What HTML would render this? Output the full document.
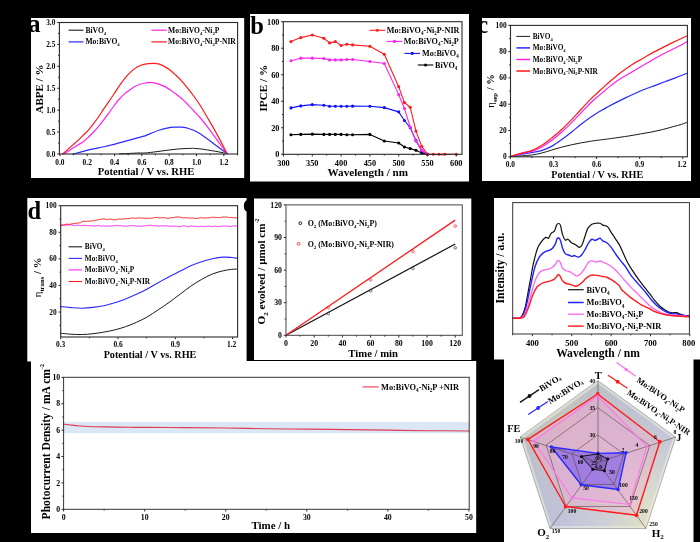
<!DOCTYPE html>
<html><head><meta charset="utf-8"><style>html,body{margin:0;padding:0;background:#000;overflow:hidden}svg{display:block;position:absolute;left:0;top:0}</style></head><body>
<svg width="700" height="542" viewBox="0 0 700 542" style="font-family:'Liberation Serif',serif;font-weight:bold;">
<rect x="0.00" y="0.00" width="700.00" height="542.00" fill="#000" stroke="none" stroke-width="1"/>
<defs><filter id="bl" x="-2%" y="-2%" width="104%" height="104%"><feGaussianBlur stdDeviation="0.38"/></filter></defs><g filter="url(#bl)">
<rect x="31.00" y="18.00" width="213.20" height="160.00" fill="#fff" stroke="none" stroke-width="1"/>
<rect x="250.00" y="14.00" width="219.00" height="167.50" fill="#fff" stroke="none" stroke-width="1"/>
<rect x="482.00" y="18.00" width="209.00" height="163.00" fill="#fff" stroke="none" stroke-width="1"/>
<rect x="27.30" y="198.00" width="219.30" height="163.50" fill="#fff" stroke="none" stroke-width="1"/>
<rect x="254.00" y="198.50" width="217.30" height="161.50" fill="#fff" stroke="none" stroke-width="1"/>
<rect x="494.00" y="198.00" width="212.00" height="161.50" fill="#fff" stroke="none" stroke-width="1"/>
<rect x="31.00" y="361.00" width="445.20" height="172.00" fill="#fff" stroke="none" stroke-width="1"/>
<rect x="504.00" y="359.00" width="189.50" height="189.00" fill="#fff" stroke="none" stroke-width="1"/>
<path d="M119.58 153.94 C122.65 153.79 133.79 153.17 138.03 153.02 C142.26 152.86 141.99 153.23 145.00 153.02 C148.01 152.80 152.38 152.19 156.07 151.73 C159.76 151.27 163.45 150.71 167.14 150.25 C170.83 149.79 174.52 149.27 178.21 148.96 C181.90 148.65 186.51 148.50 189.28 148.41 C192.05 148.31 192.66 148.28 194.82 148.41 C196.97 148.53 199.43 148.77 202.20 149.14 C204.96 149.51 208.65 150.16 211.42 150.62 C214.19 151.08 216.19 151.42 218.80 151.91 C221.41 152.40 225.72 153.30 227.10 153.57" fill="none" stroke="#1a1a1a" stroke-width="1.0" stroke-linecap="round"/>
<path d="M72.90 154.00 C73.98 153.73 77.25 152.95 79.40 152.40 C81.55 151.85 83.65 151.23 85.80 150.70 C87.95 150.17 90.13 149.68 92.30 149.20 C94.47 148.72 96.65 148.25 98.80 147.80 C100.95 147.35 103.05 146.98 105.20 146.50 C107.35 146.02 109.55 145.45 111.70 144.90 C113.85 144.35 115.95 143.78 118.10 143.20 C120.25 142.62 122.43 141.98 124.60 141.40 C126.77 140.82 128.95 140.30 131.10 139.70 C133.25 139.10 135.18 138.43 137.50 137.80 C139.82 137.17 142.52 136.75 145.00 135.90 C147.48 135.05 149.93 133.68 152.40 132.70 C154.87 131.72 157.35 130.77 159.80 130.00 C162.25 129.23 164.65 128.57 167.10 128.10 C169.55 127.63 172.03 127.35 174.50 127.20 C176.97 127.05 179.43 126.95 181.90 127.20 C184.37 127.45 186.83 127.93 189.30 128.70 C191.77 129.47 194.25 130.52 196.70 131.80 C199.15 133.08 201.55 134.72 204.00 136.40 C206.45 138.08 208.93 140.05 211.40 141.90 C213.87 143.75 216.18 145.55 218.80 147.50 C221.42 149.45 225.72 152.58 227.10 153.60" fill="none" stroke="#2a2aff" stroke-width="1.2" stroke-linecap="round"/>
<path d="M63.90 154.00 C64.55 153.57 66.30 152.38 67.80 151.40 C69.30 150.42 71.18 149.18 72.90 148.10 C74.62 147.02 76.37 145.97 78.10 144.90 C79.83 143.83 81.58 142.98 83.30 141.70 C85.02 140.42 86.68 138.82 88.40 137.20 C90.12 135.58 91.87 133.83 93.60 132.00 C95.33 130.17 97.08 128.25 98.80 126.20 C100.52 124.15 102.18 121.97 103.90 119.70 C105.62 117.43 107.37 114.97 109.10 112.60 C110.83 110.23 112.58 107.77 114.30 105.50 C116.02 103.23 117.68 100.93 119.40 99.00 C121.12 97.07 122.92 95.37 124.60 93.90 C126.28 92.43 127.88 91.38 129.50 90.20 C131.12 89.02 132.55 87.80 134.30 86.80 C136.05 85.80 138.10 84.85 140.00 84.20 C141.90 83.55 144.03 83.20 145.70 82.90 C147.37 82.60 148.57 82.40 150.00 82.40 C151.43 82.40 152.63 82.53 154.30 82.90 C155.97 83.27 158.10 83.90 160.00 84.60 C161.90 85.30 163.80 86.08 165.70 87.10 C167.60 88.12 169.50 89.38 171.40 90.70 C173.30 92.02 175.18 93.52 177.10 95.00 C179.02 96.48 180.98 97.88 182.90 99.60 C184.82 101.32 186.70 103.35 188.60 105.30 C190.50 107.25 192.33 109.18 194.30 111.30 C196.27 113.42 198.17 115.35 200.40 118.00 C202.63 120.65 205.25 123.98 207.70 127.20 C210.15 130.42 212.63 133.92 215.10 137.30 C217.57 140.68 220.50 144.78 222.50 147.50 C224.50 150.22 226.33 152.58 227.10 153.60" fill="none" stroke="#ff22ee" stroke-width="1.2" stroke-linecap="round"/>
<path d="M62.60 154.00 C63.47 153.23 66.08 150.92 67.80 149.40 C69.52 147.88 71.18 146.40 72.90 144.90 C74.62 143.40 76.37 142.02 78.10 140.40 C79.83 138.78 81.58 136.92 83.30 135.20 C85.02 133.48 86.68 132.03 88.40 130.10 C90.12 128.17 91.87 125.87 93.60 123.60 C95.33 121.33 97.08 118.98 98.80 116.50 C100.52 114.02 102.18 111.25 103.90 108.70 C105.62 106.15 107.37 103.73 109.10 101.20 C110.83 98.67 112.48 96.23 114.30 93.50 C116.12 90.77 118.10 87.50 120.00 84.80 C121.90 82.10 123.80 79.53 125.70 77.30 C127.60 75.07 129.50 73.10 131.40 71.40 C133.30 69.70 135.18 68.23 137.10 67.10 C139.02 65.97 140.98 65.18 142.90 64.60 C144.82 64.02 146.70 63.82 148.60 63.60 C150.50 63.38 152.63 63.25 154.30 63.30 C155.97 63.35 156.93 63.38 158.60 63.90 C160.27 64.42 162.40 65.38 164.30 66.40 C166.20 67.42 168.10 68.57 170.00 70.00 C171.90 71.43 173.80 73.22 175.70 75.00 C177.60 76.78 179.50 78.60 181.40 80.70 C183.30 82.80 185.18 85.22 187.10 87.60 C189.02 89.98 190.75 92.10 192.90 95.00 C195.05 97.90 197.53 101.17 200.00 105.00 C202.47 108.83 205.18 113.68 207.70 118.00 C210.22 122.32 212.63 126.45 215.10 130.90 C217.57 135.35 220.50 140.92 222.50 144.70 C224.50 148.48 226.33 152.12 227.10 153.60" fill="none" stroke="#ff1a1a" stroke-width="1.2" stroke-linecap="round"/>
<rect x="59.40" y="22.50" width="178.20" height="131.50" fill="none" stroke="#2a2a2a" stroke-width="1.1"/>
<line x1="59.90" y1="154.00" x2="59.90" y2="156.20" stroke="#2a2a2a" stroke-width="1"/>
<line x1="87.22" y1="154.00" x2="87.22" y2="156.20" stroke="#2a2a2a" stroke-width="1"/>
<line x1="114.54" y1="154.00" x2="114.54" y2="156.20" stroke="#2a2a2a" stroke-width="1"/>
<line x1="141.86" y1="154.00" x2="141.86" y2="156.20" stroke="#2a2a2a" stroke-width="1"/>
<line x1="169.18" y1="154.00" x2="169.18" y2="156.20" stroke="#2a2a2a" stroke-width="1"/>
<line x1="196.50" y1="154.00" x2="196.50" y2="156.20" stroke="#2a2a2a" stroke-width="1"/>
<line x1="223.82" y1="154.00" x2="223.82" y2="156.20" stroke="#2a2a2a" stroke-width="1"/>
<line x1="73.56" y1="154.00" x2="73.56" y2="155.30" stroke="#2a2a2a" stroke-width="1"/>
<line x1="100.88" y1="154.00" x2="100.88" y2="155.30" stroke="#2a2a2a" stroke-width="1"/>
<line x1="128.20" y1="154.00" x2="128.20" y2="155.30" stroke="#2a2a2a" stroke-width="1"/>
<line x1="155.52" y1="154.00" x2="155.52" y2="155.30" stroke="#2a2a2a" stroke-width="1"/>
<line x1="182.84" y1="154.00" x2="182.84" y2="155.30" stroke="#2a2a2a" stroke-width="1"/>
<line x1="210.16" y1="154.00" x2="210.16" y2="155.30" stroke="#2a2a2a" stroke-width="1"/>
<line x1="237.48" y1="154.00" x2="237.48" y2="155.30" stroke="#2a2a2a" stroke-width="1"/>
<line x1="57.20" y1="154.00" x2="59.40" y2="154.00" stroke="#2a2a2a" stroke-width="1"/>
<line x1="57.20" y1="132.09" x2="59.40" y2="132.09" stroke="#2a2a2a" stroke-width="1"/>
<line x1="57.20" y1="110.17" x2="59.40" y2="110.17" stroke="#2a2a2a" stroke-width="1"/>
<line x1="57.20" y1="88.25" x2="59.40" y2="88.25" stroke="#2a2a2a" stroke-width="1"/>
<line x1="57.20" y1="66.34" x2="59.40" y2="66.34" stroke="#2a2a2a" stroke-width="1"/>
<line x1="57.20" y1="44.43" x2="59.40" y2="44.43" stroke="#2a2a2a" stroke-width="1"/>
<line x1="57.20" y1="22.51" x2="59.40" y2="22.51" stroke="#2a2a2a" stroke-width="1"/>
<line x1="58.10" y1="143.04" x2="59.40" y2="143.04" stroke="#2a2a2a" stroke-width="1"/>
<line x1="58.10" y1="121.13" x2="59.40" y2="121.13" stroke="#2a2a2a" stroke-width="1"/>
<line x1="58.10" y1="99.21" x2="59.40" y2="99.21" stroke="#2a2a2a" stroke-width="1"/>
<line x1="58.10" y1="77.30" x2="59.40" y2="77.30" stroke="#2a2a2a" stroke-width="1"/>
<line x1="58.10" y1="55.38" x2="59.40" y2="55.38" stroke="#2a2a2a" stroke-width="1"/>
<line x1="58.10" y1="33.47" x2="59.40" y2="33.47" stroke="#2a2a2a" stroke-width="1"/>
<text x="59.90" y="164.90" font-size="7.4" text-anchor="middle" fill="#000" >0.0</text>
<text x="87.22" y="164.90" font-size="7.4" text-anchor="middle" fill="#000" >0.2</text>
<text x="114.54" y="164.90" font-size="7.4" text-anchor="middle" fill="#000" >0.4</text>
<text x="141.86" y="164.90" font-size="7.4" text-anchor="middle" fill="#000" >0.6</text>
<text x="169.18" y="164.90" font-size="7.4" text-anchor="middle" fill="#000" >0.8</text>
<text x="196.50" y="164.90" font-size="7.4" text-anchor="middle" fill="#000" >1.0</text>
<text x="223.82" y="164.90" font-size="7.4" text-anchor="middle" fill="#000" >1.2</text>
<text x="55.30" y="156.50" font-size="7.3" text-anchor="end" fill="#000" >0.0</text>
<text x="55.30" y="134.59" font-size="7.3" text-anchor="end" fill="#000" >0.5</text>
<text x="55.30" y="112.67" font-size="7.3" text-anchor="end" fill="#000" >1.0</text>
<text x="55.30" y="90.75" font-size="7.3" text-anchor="end" fill="#000" >1.5</text>
<text x="55.30" y="68.84" font-size="7.3" text-anchor="end" fill="#000" >2.0</text>
<text x="55.30" y="46.93" font-size="7.3" text-anchor="end" fill="#000" >2.5</text>
<text x="55.30" y="25.01" font-size="7.3" text-anchor="end" fill="#000" >3.0</text>
<text x="146.00" y="175.30" font-size="10.6" text-anchor="middle" fill="#000" >Potential / V vs. RHE</text>
<text x="42.90" y="89.00" font-size="11.0" text-anchor="middle" fill="#000" transform="rotate(-90 42.90 89.00)" >ABPE / %</text>
<text x="28.30" y="32.40" font-size="24.5" text-anchor="start" fill="#000" >a</text>
<line x1="68.60" y1="30.20" x2="83.50" y2="30.20" stroke="#1a1a1a" stroke-width="1.1"/>
<text x="85.40" y="32.60" font-size="7.6" text-anchor="start" fill="#000" >BiVO<tspan font-size="0.62em" dy="0.42em">4</tspan><tspan dy="-0.260em">&#8203;</tspan></text>
<line x1="68.60" y1="41.90" x2="83.50" y2="41.90" stroke="#2a2aff" stroke-width="1.2"/>
<text x="85.40" y="44.30" font-size="7.6" text-anchor="start" fill="#000" >Mo:BiVO<tspan font-size="0.62em" dy="0.42em">4</tspan><tspan dy="-0.260em">&#8203;</tspan></text>
<line x1="151.40" y1="30.20" x2="166.80" y2="30.20" stroke="#ff22ee" stroke-width="1.2"/>
<text x="168.00" y="32.60" font-size="7.6" text-anchor="start" fill="#000" >Mo:BiVO<tspan font-size="0.62em" dy="0.42em">4</tspan><tspan dy="-0.260em">&#8203;</tspan>-Ni<tspan font-size="0.62em" dy="0.42em">2</tspan><tspan dy="-0.260em">&#8203;</tspan>P</text>
<line x1="151.40" y1="41.90" x2="166.80" y2="41.90" stroke="#ff1a1a" stroke-width="1.2"/>
<text x="168.00" y="44.30" font-size="7.6" text-anchor="start" fill="#000" >Mo:BiVO<tspan font-size="0.62em" dy="0.42em">4</tspan><tspan dy="-0.260em">&#8203;</tspan>-Ni<tspan font-size="0.62em" dy="0.42em">2</tspan><tspan dy="-0.260em">&#8203;</tspan>P-NIR</text>
<path d="M290.99 134.81 L300.78 134.41 L312.30 134.14 L323.82 134.41 L329.58 134.41 L335.34 134.41 L341.10 134.41 L346.86 134.68 L352.62 134.68 L369.90 134.41 L384.30 141.04 L398.70 143.03 L404.46 147.01 L410.22 148.60 L415.98 150.32 L421.74 152.97 L427.50 154.30" fill="none" stroke="#000" stroke-width="1.1" stroke-linejoin="round" stroke-linecap="round" />
<circle cx="290.99" cy="134.81" r="1.55" fill="#000"/>
<circle cx="300.78" cy="134.41" r="1.55" fill="#000"/>
<circle cx="312.30" cy="134.14" r="1.55" fill="#000"/>
<circle cx="323.82" cy="134.41" r="1.55" fill="#000"/>
<circle cx="329.58" cy="134.41" r="1.55" fill="#000"/>
<circle cx="335.34" cy="134.41" r="1.55" fill="#000"/>
<circle cx="341.10" cy="134.41" r="1.55" fill="#000"/>
<circle cx="346.86" cy="134.68" r="1.55" fill="#000"/>
<circle cx="352.62" cy="134.68" r="1.55" fill="#000"/>
<circle cx="369.90" cy="134.41" r="1.55" fill="#000"/>
<circle cx="384.30" cy="141.04" r="1.55" fill="#000"/>
<circle cx="398.70" cy="143.03" r="1.55" fill="#000"/>
<circle cx="404.46" cy="147.01" r="1.55" fill="#000"/>
<circle cx="410.22" cy="148.60" r="1.55" fill="#000"/>
<circle cx="415.98" cy="150.32" r="1.55" fill="#000"/>
<circle cx="421.74" cy="152.97" r="1.55" fill="#000"/>
<circle cx="427.50" cy="154.30" r="1.55" fill="#000"/>
<path d="M290.99 107.89 L300.78 105.90 L312.30 104.58 L323.82 105.24 L329.58 106.30 L335.34 106.30 L341.10 106.30 L346.86 106.30 L352.62 106.17 L369.90 106.30 L384.30 107.62 L398.70 111.87 L404.46 120.49 L410.22 127.78 L415.98 140.38 L421.74 150.99 L427.50 154.30" fill="none" stroke="#1111ff" stroke-width="1.1" stroke-linejoin="round" stroke-linecap="round" />
<circle cx="290.99" cy="107.89" r="1.55" fill="#1111ff"/>
<circle cx="300.78" cy="105.90" r="1.55" fill="#1111ff"/>
<circle cx="312.30" cy="104.58" r="1.55" fill="#1111ff"/>
<circle cx="323.82" cy="105.24" r="1.55" fill="#1111ff"/>
<circle cx="329.58" cy="106.30" r="1.55" fill="#1111ff"/>
<circle cx="335.34" cy="106.30" r="1.55" fill="#1111ff"/>
<circle cx="341.10" cy="106.30" r="1.55" fill="#1111ff"/>
<circle cx="346.86" cy="106.30" r="1.55" fill="#1111ff"/>
<circle cx="352.62" cy="106.17" r="1.55" fill="#1111ff"/>
<circle cx="369.90" cy="106.30" r="1.55" fill="#1111ff"/>
<circle cx="384.30" cy="107.62" r="1.55" fill="#1111ff"/>
<circle cx="398.70" cy="111.87" r="1.55" fill="#1111ff"/>
<circle cx="404.46" cy="120.49" r="1.55" fill="#1111ff"/>
<circle cx="410.22" cy="127.78" r="1.55" fill="#1111ff"/>
<circle cx="415.98" cy="140.38" r="1.55" fill="#1111ff"/>
<circle cx="421.74" cy="150.99" r="1.55" fill="#1111ff"/>
<circle cx="427.50" cy="154.30" r="1.55" fill="#1111ff"/>
<path d="M290.99 60.82 L300.78 58.17 L312.30 58.17 L323.82 58.43 L329.58 59.89 L335.34 59.89 L341.10 59.89 L346.86 59.49 L352.62 59.49 L369.90 61.48 L384.30 63.47 L398.70 94.63 L404.46 108.55 L410.22 127.12 L415.98 141.04 L421.74 150.32 L427.50 154.30" fill="none" stroke="#ff22ee" stroke-width="1.1" stroke-linejoin="round" stroke-linecap="round" />
<circle cx="290.99" cy="60.82" r="1.55" fill="#ff22ee"/>
<circle cx="300.78" cy="58.17" r="1.55" fill="#ff22ee"/>
<circle cx="312.30" cy="58.17" r="1.55" fill="#ff22ee"/>
<circle cx="323.82" cy="58.43" r="1.55" fill="#ff22ee"/>
<circle cx="329.58" cy="59.89" r="1.55" fill="#ff22ee"/>
<circle cx="335.34" cy="59.89" r="1.55" fill="#ff22ee"/>
<circle cx="341.10" cy="59.89" r="1.55" fill="#ff22ee"/>
<circle cx="346.86" cy="59.49" r="1.55" fill="#ff22ee"/>
<circle cx="352.62" cy="59.49" r="1.55" fill="#ff22ee"/>
<circle cx="369.90" cy="61.48" r="1.55" fill="#ff22ee"/>
<circle cx="384.30" cy="63.47" r="1.55" fill="#ff22ee"/>
<circle cx="398.70" cy="94.63" r="1.55" fill="#ff22ee"/>
<circle cx="404.46" cy="108.55" r="1.55" fill="#ff22ee"/>
<circle cx="410.22" cy="127.12" r="1.55" fill="#ff22ee"/>
<circle cx="415.98" cy="141.04" r="1.55" fill="#ff22ee"/>
<circle cx="421.74" cy="150.32" r="1.55" fill="#ff22ee"/>
<circle cx="427.50" cy="154.30" r="1.55" fill="#ff22ee"/>
<path d="M290.99 41.59 L300.78 37.61 L312.30 34.96 L323.82 38.28 L329.58 42.92 L335.34 41.59 L341.10 45.57 L346.86 44.24 L352.62 44.91 L369.90 46.23 L384.30 54.19 L398.70 86.67 L404.46 102.59 L410.22 107.23 L415.98 131.09 L421.74 146.34 L427.50 154.30 L433.26 154.30 L439.02 154.30 L444.78 154.30 L456.30 154.30" fill="none" stroke="#ff1a1a" stroke-width="1.1" stroke-linejoin="round" stroke-linecap="round" />
<circle cx="290.99" cy="41.59" r="1.55" fill="#ff1a1a"/>
<circle cx="300.78" cy="37.61" r="1.55" fill="#ff1a1a"/>
<circle cx="312.30" cy="34.96" r="1.55" fill="#ff1a1a"/>
<circle cx="323.82" cy="38.28" r="1.55" fill="#ff1a1a"/>
<circle cx="329.58" cy="42.92" r="1.55" fill="#ff1a1a"/>
<circle cx="335.34" cy="41.59" r="1.55" fill="#ff1a1a"/>
<circle cx="341.10" cy="45.57" r="1.55" fill="#ff1a1a"/>
<circle cx="346.86" cy="44.24" r="1.55" fill="#ff1a1a"/>
<circle cx="352.62" cy="44.91" r="1.55" fill="#ff1a1a"/>
<circle cx="369.90" cy="46.23" r="1.55" fill="#ff1a1a"/>
<circle cx="384.30" cy="54.19" r="1.55" fill="#ff1a1a"/>
<circle cx="398.70" cy="86.67" r="1.55" fill="#ff1a1a"/>
<circle cx="404.46" cy="102.59" r="1.55" fill="#ff1a1a"/>
<circle cx="410.22" cy="107.23" r="1.55" fill="#ff1a1a"/>
<circle cx="415.98" cy="131.09" r="1.55" fill="#ff1a1a"/>
<circle cx="421.74" cy="146.34" r="1.55" fill="#ff1a1a"/>
<circle cx="427.50" cy="154.30" r="1.55" fill="#ff1a1a"/>
<circle cx="433.26" cy="154.30" r="1.55" fill="#ff1a1a"/>
<circle cx="439.02" cy="154.30" r="1.55" fill="#ff1a1a"/>
<circle cx="444.78" cy="154.30" r="1.55" fill="#ff1a1a"/>
<circle cx="456.30" cy="154.30" r="1.55" fill="#ff1a1a"/>
<rect x="283.30" y="21.70" width="178.70" height="132.60" fill="none" stroke="#2a2a2a" stroke-width="1.1"/>
<line x1="283.50" y1="154.30" x2="283.50" y2="156.50" stroke="#2a2a2a" stroke-width="1"/>
<line x1="312.30" y1="154.30" x2="312.30" y2="156.50" stroke="#2a2a2a" stroke-width="1"/>
<line x1="341.10" y1="154.30" x2="341.10" y2="156.50" stroke="#2a2a2a" stroke-width="1"/>
<line x1="369.90" y1="154.30" x2="369.90" y2="156.50" stroke="#2a2a2a" stroke-width="1"/>
<line x1="398.70" y1="154.30" x2="398.70" y2="156.50" stroke="#2a2a2a" stroke-width="1"/>
<line x1="427.50" y1="154.30" x2="427.50" y2="156.50" stroke="#2a2a2a" stroke-width="1"/>
<line x1="456.30" y1="154.30" x2="456.30" y2="156.50" stroke="#2a2a2a" stroke-width="1"/>
<line x1="297.90" y1="154.30" x2="297.90" y2="155.60" stroke="#2a2a2a" stroke-width="1"/>
<line x1="326.70" y1="154.30" x2="326.70" y2="155.60" stroke="#2a2a2a" stroke-width="1"/>
<line x1="355.50" y1="154.30" x2="355.50" y2="155.60" stroke="#2a2a2a" stroke-width="1"/>
<line x1="384.30" y1="154.30" x2="384.30" y2="155.60" stroke="#2a2a2a" stroke-width="1"/>
<line x1="413.10" y1="154.30" x2="413.10" y2="155.60" stroke="#2a2a2a" stroke-width="1"/>
<line x1="441.90" y1="154.30" x2="441.90" y2="155.60" stroke="#2a2a2a" stroke-width="1"/>
<line x1="281.10" y1="154.30" x2="283.30" y2="154.30" stroke="#2a2a2a" stroke-width="1"/>
<line x1="281.10" y1="127.78" x2="283.30" y2="127.78" stroke="#2a2a2a" stroke-width="1"/>
<line x1="281.10" y1="101.26" x2="283.30" y2="101.26" stroke="#2a2a2a" stroke-width="1"/>
<line x1="281.10" y1="74.74" x2="283.30" y2="74.74" stroke="#2a2a2a" stroke-width="1"/>
<line x1="281.10" y1="48.22" x2="283.30" y2="48.22" stroke="#2a2a2a" stroke-width="1"/>
<line x1="281.10" y1="21.70" x2="283.30" y2="21.70" stroke="#2a2a2a" stroke-width="1"/>
<line x1="282.00" y1="141.04" x2="283.30" y2="141.04" stroke="#2a2a2a" stroke-width="1"/>
<line x1="282.00" y1="114.52" x2="283.30" y2="114.52" stroke="#2a2a2a" stroke-width="1"/>
<line x1="282.00" y1="88.00" x2="283.30" y2="88.00" stroke="#2a2a2a" stroke-width="1"/>
<line x1="282.00" y1="61.48" x2="283.30" y2="61.48" stroke="#2a2a2a" stroke-width="1"/>
<line x1="282.00" y1="34.96" x2="283.30" y2="34.96" stroke="#2a2a2a" stroke-width="1"/>
<text x="283.50" y="165.50" font-size="8.3" text-anchor="middle" fill="#000" >300</text>
<text x="312.30" y="165.50" font-size="8.3" text-anchor="middle" fill="#000" >350</text>
<text x="341.10" y="165.50" font-size="8.3" text-anchor="middle" fill="#000" >400</text>
<text x="369.90" y="165.50" font-size="8.3" text-anchor="middle" fill="#000" >450</text>
<text x="398.70" y="165.50" font-size="8.3" text-anchor="middle" fill="#000" >500</text>
<text x="427.50" y="165.50" font-size="8.3" text-anchor="middle" fill="#000" >550</text>
<text x="456.30" y="165.50" font-size="8.3" text-anchor="middle" fill="#000" >600</text>
<text x="279.50" y="157.10" font-size="8.3" text-anchor="end" fill="#000" >0</text>
<text x="279.50" y="130.58" font-size="8.3" text-anchor="end" fill="#000" >20</text>
<text x="279.50" y="104.06" font-size="8.3" text-anchor="end" fill="#000" >40</text>
<text x="279.50" y="77.54" font-size="8.3" text-anchor="end" fill="#000" >60</text>
<text x="279.50" y="51.02" font-size="8.3" text-anchor="end" fill="#000" >80</text>
<text x="279.50" y="24.50" font-size="8.3" text-anchor="end" fill="#000" >100</text>
<text x="367.80" y="176.30" font-size="11.15" text-anchor="middle" fill="#000" >Wavelength / nm</text>
<text x="267.00" y="88.20" font-size="11.2" text-anchor="middle" fill="#000" transform="rotate(-90 267.00 88.20)" >IPCE / %</text>
<text x="250.20" y="34.00" font-size="24.5" text-anchor="start" fill="#000" >b</text>
<line x1="369.50" y1="30.30" x2="385.20" y2="30.30" stroke="#ff1a1a" stroke-width="1.1"/>
<circle cx="377.35" cy="30.3" r="1.55" fill="#ff1a1a"/>
<text x="386.80" y="33.00" font-size="8.15" text-anchor="start" fill="#000" >Mo:BiVO<tspan font-size="0.62em" dy="0.42em">4</tspan><tspan dy="-0.260em">&#8203;</tspan>-Ni<tspan font-size="0.62em" dy="0.42em">2</tspan><tspan dy="-0.260em">&#8203;</tspan>P-NIR</text>
<line x1="386.60" y1="41.40" x2="402.30" y2="41.40" stroke="#ff22ee" stroke-width="1.1"/>
<circle cx="394.45" cy="41.4" r="1.55" fill="#ff22ee"/>
<text x="403.80" y="44.10" font-size="8.15" text-anchor="start" fill="#000" >Mo:BiVO<tspan font-size="0.62em" dy="0.42em">4</tspan><tspan dy="-0.260em">&#8203;</tspan>-Ni<tspan font-size="0.62em" dy="0.42em">2</tspan><tspan dy="-0.260em">&#8203;</tspan>P</text>
<line x1="404.50" y1="53.40" x2="420.00" y2="53.40" stroke="#1111ff" stroke-width="1.1"/>
<circle cx="412.25" cy="53.4" r="1.55" fill="#1111ff"/>
<text x="422.00" y="56.10" font-size="8.15" text-anchor="start" fill="#000" >Mo:BiVO<tspan font-size="0.62em" dy="0.42em">4</tspan><tspan dy="-0.260em">&#8203;</tspan></text>
<line x1="417.80" y1="65.00" x2="433.30" y2="65.00" stroke="#000" stroke-width="1.1"/>
<circle cx="425.55" cy="65" r="1.55" fill="#000"/>
<text x="435.00" y="67.70" font-size="8.15" text-anchor="start" fill="#000" >BiVO<tspan font-size="0.62em" dy="0.42em">4</tspan><tspan dy="-0.260em">&#8203;</tspan></text>
<path d="M510.80 156.40 C512.60 156.32 518.13 156.13 521.60 155.90 C525.07 155.67 528.28 155.47 531.60 155.00 C534.92 154.53 538.18 153.92 541.50 153.10 C544.82 152.28 548.17 151.08 551.50 150.10 C554.83 149.12 558.18 148.08 561.50 147.20 C564.82 146.32 568.08 145.53 571.40 144.80 C574.72 144.07 578.07 143.42 581.40 142.80 C584.73 142.18 588.08 141.60 591.40 141.10 C594.72 140.60 598.70 140.13 601.30 139.80 C603.90 139.47 604.05 139.50 607.00 139.10 C609.95 138.70 615.18 137.95 619.00 137.40 C622.82 136.85 626.28 136.38 629.90 135.80 C633.52 135.22 637.08 134.53 640.70 133.90 C644.32 133.27 647.98 132.72 651.60 132.00 C655.22 131.28 658.78 130.50 662.40 129.60 C666.02 128.70 670.13 127.47 673.30 126.60 C676.47 125.73 679.05 125.13 681.40 124.40 C683.75 123.67 686.40 122.57 687.40 122.20" fill="none" stroke="#1a1a1a" stroke-width="1.0" stroke-linecap="round"/>
<path d="M510.80 156.40 C512.60 156.03 518.13 154.83 521.60 154.20 C525.07 153.57 528.28 153.20 531.60 152.60 C534.92 152.00 538.18 151.63 541.50 150.60 C544.82 149.57 548.17 148.20 551.50 146.40 C554.83 144.60 558.18 142.15 561.50 139.80 C564.82 137.45 568.08 134.93 571.40 132.30 C574.72 129.67 578.07 126.58 581.40 124.00 C584.73 121.42 588.08 119.03 591.40 116.80 C594.72 114.57 598.53 112.27 601.30 110.60 C604.07 108.93 605.73 108.05 608.00 106.80 C610.27 105.55 612.08 104.55 614.90 103.10 C617.72 101.65 621.57 99.70 624.90 98.10 C628.23 96.50 631.58 94.97 634.90 93.50 C638.22 92.03 641.48 90.62 644.80 89.30 C648.12 87.98 651.47 86.85 654.80 85.60 C658.13 84.35 661.48 83.05 664.80 81.80 C668.12 80.55 670.97 79.53 674.70 78.10 C678.43 76.67 685.12 74.02 687.20 73.20" fill="none" stroke="#2a2aff" stroke-width="1.2" stroke-linecap="round"/>
<path d="M510.80 156.40 C512.60 155.90 518.13 154.23 521.60 153.40 C525.07 152.57 528.28 152.43 531.60 151.40 C534.92 150.37 538.18 149.00 541.50 147.20 C544.82 145.40 548.17 143.08 551.50 140.60 C554.83 138.12 558.18 135.27 561.50 132.30 C564.82 129.33 568.08 126.12 571.40 122.80 C574.72 119.48 578.07 115.83 581.40 112.40 C584.73 108.97 588.08 105.33 591.40 102.20 C594.72 99.07 598.22 96.23 601.30 93.60 C604.38 90.97 606.80 88.83 609.90 86.40 C613.00 83.97 616.57 81.20 619.90 79.00 C623.23 76.80 626.58 75.15 629.90 73.20 C633.22 71.25 636.48 69.25 639.80 67.30 C643.12 65.35 646.47 63.43 649.80 61.50 C653.13 59.57 656.48 57.50 659.80 55.70 C663.12 53.90 666.38 52.37 669.70 50.70 C673.02 49.03 676.78 47.22 679.70 45.70 C682.62 44.18 685.95 42.28 687.20 41.60" fill="none" stroke="#ff22ee" stroke-width="1.2" stroke-linecap="round"/>
<path d="M510.80 156.40 C512.60 155.85 518.13 154.07 521.60 153.10 C525.07 152.13 528.28 151.85 531.60 150.60 C534.92 149.35 538.18 147.68 541.50 145.60 C544.82 143.52 548.17 140.73 551.50 138.10 C554.83 135.47 558.18 132.85 561.50 129.80 C564.82 126.75 568.08 123.27 571.40 119.80 C574.72 116.33 578.07 112.57 581.40 109.00 C584.73 105.43 588.08 101.68 591.40 98.40 C594.72 95.12 598.22 92.12 601.30 89.30 C604.38 86.48 606.80 84.18 609.90 81.50 C613.00 78.82 616.30 75.97 619.90 73.20 C623.50 70.43 627.62 67.40 631.50 64.90 C635.38 62.40 639.60 60.28 643.20 58.20 C646.80 56.12 649.78 54.20 653.10 52.40 C656.42 50.60 659.77 49.07 663.10 47.40 C666.43 45.73 669.08 44.33 673.10 42.40 C677.12 40.47 684.85 36.90 687.20 35.80" fill="none" stroke="#ff1a1a" stroke-width="1.2" stroke-linecap="round"/>
<rect x="510.50" y="25.40" width="176.90" height="131.40" fill="none" stroke="#2a2a2a" stroke-width="1.1"/>
<line x1="510.40" y1="156.80" x2="510.40" y2="159.00" stroke="#2a2a2a" stroke-width="1"/>
<line x1="553.50" y1="156.80" x2="553.50" y2="159.00" stroke="#2a2a2a" stroke-width="1"/>
<line x1="596.60" y1="156.80" x2="596.60" y2="159.00" stroke="#2a2a2a" stroke-width="1"/>
<line x1="639.70" y1="156.80" x2="639.70" y2="159.00" stroke="#2a2a2a" stroke-width="1"/>
<line x1="682.80" y1="156.80" x2="682.80" y2="159.00" stroke="#2a2a2a" stroke-width="1"/>
<line x1="531.95" y1="156.80" x2="531.95" y2="158.10" stroke="#2a2a2a" stroke-width="1"/>
<line x1="575.05" y1="156.80" x2="575.05" y2="158.10" stroke="#2a2a2a" stroke-width="1"/>
<line x1="618.15" y1="156.80" x2="618.15" y2="158.10" stroke="#2a2a2a" stroke-width="1"/>
<line x1="661.25" y1="156.80" x2="661.25" y2="158.10" stroke="#2a2a2a" stroke-width="1"/>
<line x1="508.30" y1="156.80" x2="510.50" y2="156.80" stroke="#2a2a2a" stroke-width="1"/>
<line x1="508.30" y1="130.52" x2="510.50" y2="130.52" stroke="#2a2a2a" stroke-width="1"/>
<line x1="508.30" y1="104.24" x2="510.50" y2="104.24" stroke="#2a2a2a" stroke-width="1"/>
<line x1="508.30" y1="77.96" x2="510.50" y2="77.96" stroke="#2a2a2a" stroke-width="1"/>
<line x1="508.30" y1="51.68" x2="510.50" y2="51.68" stroke="#2a2a2a" stroke-width="1"/>
<line x1="508.30" y1="25.40" x2="510.50" y2="25.40" stroke="#2a2a2a" stroke-width="1"/>
<line x1="509.20" y1="143.66" x2="510.50" y2="143.66" stroke="#2a2a2a" stroke-width="1"/>
<line x1="509.20" y1="117.38" x2="510.50" y2="117.38" stroke="#2a2a2a" stroke-width="1"/>
<line x1="509.20" y1="91.10" x2="510.50" y2="91.10" stroke="#2a2a2a" stroke-width="1"/>
<line x1="509.20" y1="64.82" x2="510.50" y2="64.82" stroke="#2a2a2a" stroke-width="1"/>
<line x1="509.20" y1="38.54" x2="510.50" y2="38.54" stroke="#2a2a2a" stroke-width="1"/>
<text x="510.40" y="167.30" font-size="7.4" text-anchor="middle" fill="#000" >0.0</text>
<text x="553.50" y="167.30" font-size="7.4" text-anchor="middle" fill="#000" >0.3</text>
<text x="596.60" y="167.30" font-size="7.4" text-anchor="middle" fill="#000" >0.6</text>
<text x="639.70" y="167.30" font-size="7.4" text-anchor="middle" fill="#000" >0.9</text>
<text x="681.80" y="167.30" font-size="7.4" text-anchor="middle" fill="#000" >1.2</text>
<text x="506.60" y="159.30" font-size="7.4" text-anchor="end" fill="#000" >0</text>
<text x="506.60" y="133.02" font-size="7.4" text-anchor="end" fill="#000" >20</text>
<text x="506.60" y="106.74" font-size="7.4" text-anchor="end" fill="#000" >40</text>
<text x="506.60" y="80.46" font-size="7.4" text-anchor="end" fill="#000" >60</text>
<text x="506.60" y="54.18" font-size="7.4" text-anchor="end" fill="#000" >80</text>
<text x="506.60" y="27.90" font-size="7.4" text-anchor="end" fill="#000" >100</text>
<text x="597.20" y="177.50" font-size="10.1" text-anchor="middle" fill="#000" >Potential / V vs. RHE</text>
<text x="494.00" y="90.90" font-size="10.6" text-anchor="middle" fill="#000" transform="rotate(-90 494.00 90.90)" ><tspan font-weight="normal">&#951;</tspan><tspan font-size="0.62em" dy="0.42em">sep</tspan><tspan dy="-0.260em">&#8203;</tspan> / %</text>
<text x="477.20" y="32.70" font-size="24.5" text-anchor="start" fill="#000" >c</text>
<line x1="516.40" y1="36.40" x2="530.00" y2="36.40" stroke="#1a1a1a" stroke-width="1.0"/>
<text x="532.70" y="38.90" font-size="7.3" text-anchor="start" fill="#000" >BiVO<tspan font-size="0.62em" dy="0.42em">4</tspan><tspan dy="-0.260em">&#8203;</tspan></text>
<line x1="516.40" y1="47.90" x2="530.00" y2="47.90" stroke="#2a2aff" stroke-width="1.5"/>
<text x="532.70" y="50.40" font-size="7.3" text-anchor="start" fill="#000" >Mo:BiVO<tspan font-size="0.62em" dy="0.42em">4</tspan><tspan dy="-0.260em">&#8203;</tspan></text>
<line x1="516.40" y1="59.50" x2="530.00" y2="59.50" stroke="#ff22ee" stroke-width="1.5"/>
<text x="532.70" y="62.00" font-size="7.3" text-anchor="start" fill="#000" >Mo:BiVO<tspan font-size="0.62em" dy="0.42em">4</tspan><tspan dy="-0.260em">&#8203;</tspan>-Ni<tspan font-size="0.62em" dy="0.42em">2</tspan><tspan dy="-0.260em">&#8203;</tspan>P</text>
<line x1="516.40" y1="71.00" x2="530.00" y2="71.00" stroke="#ff1a1a" stroke-width="1.5"/>
<text x="532.70" y="73.50" font-size="7.3" text-anchor="start" fill="#000" >Mo:BiVO<tspan font-size="0.62em" dy="0.42em">4</tspan><tspan dy="-0.260em">&#8203;</tspan>-Ni<tspan font-size="0.62em" dy="0.42em">2</tspan><tspan dy="-0.260em">&#8203;</tspan>P-NIR</text>
<path d="M60.70 333.18 C62.46 333.36 67.71 334.04 71.29 334.26 C74.86 334.49 78.53 334.63 82.14 334.54 C85.76 334.45 89.38 334.13 93.00 333.72 C96.62 333.31 100.24 332.73 103.86 332.09 C107.48 331.46 111.10 330.83 114.72 329.92 C118.34 329.02 121.96 327.93 125.58 326.66 C129.19 325.40 132.81 323.95 136.43 322.32 C140.05 320.69 143.67 318.97 147.29 316.89 C150.91 314.81 154.53 312.23 158.15 309.83 C161.77 307.44 165.39 305.08 169.01 302.51 C172.63 299.93 176.25 297.08 179.86 294.36 C183.48 291.65 187.10 288.71 190.72 286.22 C194.34 283.73 197.96 281.47 201.58 279.43 C205.20 277.40 208.82 275.45 212.44 274.00 C216.06 272.56 220.13 271.52 223.30 270.75 C226.46 269.98 229.09 269.66 231.44 269.39 C233.79 269.12 236.42 269.16 237.41 269.12" fill="none" stroke="#1a1a1a" stroke-width="1.0" stroke-linecap="round"/>
<path d="M60.70 306.58 C62.46 306.76 67.71 307.39 71.29 307.66 C74.86 307.93 78.53 308.25 82.14 308.21 C85.76 308.16 89.38 307.80 93.00 307.39 C96.62 306.98 100.24 306.53 103.86 305.76 C107.48 304.99 111.10 303.91 114.72 302.78 C118.34 301.65 121.96 300.38 125.58 298.98 C129.19 297.57 132.81 296.04 136.43 294.36 C140.05 292.69 143.67 290.88 147.29 288.93 C150.91 286.99 154.53 284.73 158.15 282.69 C161.77 280.65 165.39 278.62 169.01 276.72 C172.63 274.82 176.25 273.10 179.86 271.29 C183.48 269.48 187.10 267.44 190.72 265.86 C194.34 264.28 197.96 262.97 201.58 261.79 C205.20 260.61 208.82 259.57 212.44 258.80 C216.06 258.03 220.13 257.40 223.30 257.17 C226.46 256.95 229.09 257.27 231.44 257.45 C233.79 257.63 236.42 258.12 237.41 258.26" fill="none" stroke="#2a2aff" stroke-width="1.1" stroke-linecap="round"/>
<path d="M60.70 225.86 L61.38 225.65 L62.06 225.74 L62.74 225.48 L63.42 225.53 L64.10 225.46 L64.78 225.23 L65.46 225.28 L66.14 225.06 L66.82 225.09 L67.50 224.90 L68.18 224.76 L68.86 224.82 L69.54 225.08 L70.22 224.87 L70.90 224.76 L71.57 224.91 L72.25 225.25 L72.93 225.31 L73.61 225.27 L74.29 225.56 L74.97 225.28 L75.65 225.52 L76.33 225.40 L77.01 225.24 L77.69 225.12 L78.37 225.13 L79.05 225.43 L79.73 225.32 L80.41 225.46 L81.09 225.60 L81.77 225.58 L82.45 225.64 L83.13 225.42 L83.81 225.25 L84.49 225.21 L85.17 225.43 L85.85 225.46 L86.53 225.43 L87.21 225.55 L87.89 225.57 L88.57 225.50 L89.25 225.72 L89.93 225.83 L90.61 225.67 L91.28 225.73 L91.96 225.75 L92.64 225.95 L93.32 226.03 L94.00 225.84 L94.68 226.08 L95.36 225.80 L96.04 225.74 L96.72 225.89 L97.40 225.67 L98.08 225.69 L98.76 225.46 L99.44 225.64 L100.12 225.82 L100.80 225.85 L101.48 226.04 L102.16 225.88 L102.84 225.97 L103.52 225.98 L104.20 225.98 L104.88 225.91 L105.56 226.07 L106.24 226.25 L106.92 226.13 L107.60 226.14 L108.28 225.82 L108.96 225.94 L109.64 225.99 L110.32 226.22 L110.99 226.30 L111.67 226.07 L112.35 225.95 L113.03 226.02 L113.71 225.72 L114.39 225.73 L115.07 225.59 L115.75 225.45 L116.43 225.31 L117.11 225.60 L117.79 225.47 L118.47 225.43 L119.15 225.49 L119.83 225.79 L120.51 225.59 L121.19 225.63 L121.87 225.73 L122.55 225.98 L123.23 226.13 L123.91 226.27 L124.59 226.06 L125.27 225.98 L125.95 225.89 L126.63 226.10 L127.31 226.31 L127.99 226.02 L128.67 225.82 L129.35 225.71 L130.03 225.62 L130.70 225.69 L131.38 225.80 L132.06 225.71 L132.74 225.50 L133.42 225.57 L134.10 225.60 L134.78 225.72 L135.46 226.03 L136.14 226.12 L136.82 226.09 L137.50 226.12 L138.18 226.18 L138.86 225.89 L139.54 226.13 L140.22 226.25 L140.90 226.39 L141.58 226.45 L142.26 226.28 L142.94 226.15 L143.62 225.90 L144.30 226.00 L144.98 225.77 L145.66 225.59 L146.34 225.54 L147.02 225.48 L147.70 225.53 L148.38 225.41 L149.06 225.29 L149.74 225.29 L150.41 225.26 L151.09 225.38 L151.77 225.29 L152.45 225.68 L153.13 225.84 L153.81 225.70 L154.49 225.66 L155.17 225.68 L155.85 225.70 L156.53 225.59 L157.21 225.90 L157.89 226.21 L158.57 226.16 L159.25 226.13 L159.93 225.90 L160.61 225.73 L161.29 225.73 L161.97 225.70 L162.65 225.98 L163.33 225.82 L164.01 225.64 L164.69 226.00 L165.37 226.04 L166.05 225.87 L166.73 225.96 L167.41 225.74 L168.09 225.85 L168.77 226.18 L169.45 226.37 L170.12 226.42 L170.80 226.22 L171.48 226.13 L172.16 225.95 L172.84 226.15 L173.52 226.17 L174.20 226.32 L174.88 226.19 L175.56 226.03 L176.24 226.23 L176.92 226.48 L177.60 226.60 L178.28 226.66 L178.96 226.71 L179.64 226.71 L180.32 226.43 L181.00 226.38 L181.68 226.26 L182.36 225.99 L183.04 225.78 L183.72 225.77 L184.40 225.75 L185.08 225.97 L185.76 226.28 L186.44 226.23 L187.12 226.47 L187.80 226.67 L188.48 226.81 L189.15 226.59 L189.83 226.35 L190.51 226.17 L191.19 226.02 L191.87 225.92 L192.55 226.06 L193.23 226.32 L193.91 226.48 L194.59 226.41 L195.27 226.45 L195.95 226.56 L196.63 226.25 L197.31 226.33 L197.99 226.53 L198.67 226.61 L199.35 226.65 L200.03 226.53 L200.71 226.28 L201.39 226.43 L202.07 226.29 L202.75 226.44 L203.43 226.64 L204.11 226.48 L204.79 226.36 L205.47 226.57 L206.15 226.61 L206.83 226.34 L207.51 226.11 L208.19 225.95 L208.86 226.24 L209.54 226.40 L210.22 226.17 L210.90 226.36 L211.58 226.59 L212.26 226.58 L212.94 226.41 L213.62 226.39 L214.30 226.15 L214.98 225.91 L215.66 226.24 L216.34 226.32 L217.02 226.31 L217.70 226.53 L218.38 226.42 L219.06 226.57 L219.74 226.66 L220.42 226.40 L221.10 226.22 L221.78 226.11 L222.46 226.00 L223.14 226.10 L223.82 226.01 L224.50 226.02 L225.18 225.87 L225.86 226.18 L226.54 226.12 L227.22 226.12 L227.90 226.19 L228.57 226.42 L229.25 226.33 L229.93 226.53 L230.61 226.46 L231.29 226.42 L231.97 226.38 L232.65 226.08 L233.33 226.09 L234.01 225.95 L234.69 225.75 L235.37 226.03 L236.05 225.91 L236.73 225.97 L237.41 226.16" fill="none" stroke="#ff22ee" stroke-width="1.0" stroke-linejoin="round" stroke-linecap="round" />
<path d="M60.70 225.18 L61.38 224.98 L62.06 224.92 L62.74 224.88 L63.42 224.96 L64.10 224.60 L64.78 224.58 L65.46 224.35 L66.14 224.18 L66.82 224.32 L67.50 224.25 L68.18 224.20 L68.86 224.27 L69.54 224.38 L70.22 224.17 L70.90 224.09 L71.57 223.93 L72.25 223.77 L72.93 223.73 L73.61 223.52 L74.29 223.39 L74.97 223.22 L75.65 223.35 L76.33 223.27 L77.01 223.28 L77.69 223.30 L78.37 222.88 L79.05 222.71 L79.73 222.79 L80.41 222.75 L81.09 222.28 L81.77 221.88 L82.45 221.76 L83.13 221.44 L83.81 221.28 L84.49 221.04 L85.17 221.20 L85.85 221.36 L86.53 221.53 L87.21 221.19 L87.89 221.25 L88.57 221.24 L89.25 220.90 L89.93 221.07 L90.61 221.23 L91.28 220.87 L91.96 221.03 L92.64 220.79 L93.32 220.64 L94.00 220.81 L94.68 220.82 L95.36 220.41 L96.04 220.24 L96.72 220.14 L97.40 219.94 L98.08 219.68 L98.76 219.54 L99.44 219.66 L100.12 219.30 L100.80 219.33 L101.48 219.27 L102.16 218.95 L102.84 218.87 L103.52 218.97 L104.20 219.01 L104.88 218.83 L105.56 219.25 L106.24 219.46 L106.92 219.73 L107.60 219.43 L108.28 219.31 L108.96 219.09 L109.64 219.37 L110.32 219.29 L110.99 219.16 L111.67 219.24 L112.35 219.60 L113.03 219.82 L113.71 219.66 L114.39 219.49 L115.07 219.77 L115.75 219.72 L116.43 219.75 L117.11 219.38 L117.79 219.07 L118.47 219.20 L119.15 219.12 L119.83 218.84 L120.51 219.12 L121.19 219.14 L121.87 219.23 L122.55 218.86 L123.23 219.02 L123.91 218.66 L124.59 218.84 L125.27 218.72 L125.95 218.58 L126.63 218.62 L127.31 218.88 L127.99 218.68 L128.67 218.44 L129.35 218.51 L130.03 218.38 L130.70 218.21 L131.38 218.11 L132.06 217.97 L132.74 217.96 L133.42 218.01 L134.10 218.05 L134.78 218.35 L135.46 218.30 L136.14 218.38 L136.82 218.23 L137.50 218.20 L138.18 217.97 L138.86 217.93 L139.54 217.75 L140.22 218.04 L140.90 218.14 L141.58 217.98 L142.26 218.03 L142.94 218.33 L143.62 218.06 L144.30 218.27 L144.98 218.19 L145.66 218.15 L146.34 218.32 L147.02 218.18 L147.70 218.14 L148.38 218.22 L149.06 218.45 L149.74 218.24 L150.41 218.37 L151.09 218.38 L151.77 218.35 L152.45 218.18 L153.13 218.02 L153.81 217.72 L154.49 217.53 L155.17 217.35 L155.85 217.61 L156.53 217.51 L157.21 217.38 L157.89 217.23 L158.57 217.59 L159.25 217.88 L159.93 217.99 L160.61 217.85 L161.29 217.72 L161.97 217.65 L162.65 217.71 L163.33 217.58 L164.01 217.65 L164.69 217.61 L165.37 217.99 L166.05 218.29 L166.73 218.27 L167.41 218.07 L168.09 218.36 L168.77 218.19 L169.45 218.06 L170.12 217.73 L170.80 217.70 L171.48 217.73 L172.16 217.75 L172.84 217.58 L173.52 217.63 L174.20 217.36 L174.88 217.30 L175.56 217.15 L176.24 217.20 L176.92 217.03 L177.60 216.87 L178.28 216.92 L178.96 216.90 L179.64 217.09 L180.32 217.22 L181.00 217.47 L181.68 217.61 L182.36 217.75 L183.04 217.96 L183.72 217.83 L184.40 217.69 L185.08 217.99 L185.76 217.72 L186.44 217.86 L187.12 217.93 L187.80 217.62 L188.48 217.87 L189.15 218.09 L189.83 218.11 L190.51 218.18 L191.19 218.29 L191.87 217.98 L192.55 217.98 L193.23 217.97 L193.91 218.16 L194.59 218.29 L195.27 218.41 L195.95 218.36 L196.63 218.51 L197.31 218.50 L197.99 218.50 L198.67 218.23 L199.35 217.91 L200.03 217.74 L200.71 217.75 L201.39 217.61 L202.07 217.91 L202.75 217.95 L203.43 218.01 L204.11 218.05 L204.79 218.10 L205.47 218.02 L206.15 217.65 L206.83 217.85 L207.51 217.96 L208.19 217.88 L208.86 217.84 L209.54 217.87 L210.22 217.53 L210.90 217.67 L211.58 217.48 L212.26 217.22 L212.94 217.14 L213.62 217.36 L214.30 217.20 L214.98 217.40 L215.66 217.69 L216.34 217.61 L217.02 217.48 L217.70 217.44 L218.38 217.53 L219.06 217.64 L219.74 217.62 L220.42 217.63 L221.10 217.29 L221.78 217.07 L222.46 216.97 L223.14 217.18 L223.82 217.10 L224.50 217.22 L225.18 216.98 L225.86 216.83 L226.54 216.85 L227.22 217.12 L227.90 217.34 L228.57 217.50 L229.25 217.39 L229.93 217.46 L230.61 217.48 L231.29 217.50 L231.97 217.32 L232.65 217.65 L233.33 217.49 L234.01 217.85 L234.69 218.09 L235.37 217.74 L236.05 217.74 L236.73 217.96 L237.41 218.22" fill="none" stroke="#ff1a1a" stroke-width="1.0" stroke-linejoin="round" stroke-linecap="round" />
<rect x="60.70" y="205.70" width="176.90" height="131.30" fill="none" stroke="#2a2a2a" stroke-width="1.1"/>
<line x1="60.70" y1="337.00" x2="60.70" y2="339.20" stroke="#2a2a2a" stroke-width="1"/>
<line x1="118.00" y1="337.00" x2="118.00" y2="339.20" stroke="#2a2a2a" stroke-width="1"/>
<line x1="175.30" y1="337.00" x2="175.30" y2="339.20" stroke="#2a2a2a" stroke-width="1"/>
<line x1="232.60" y1="337.00" x2="232.60" y2="339.20" stroke="#2a2a2a" stroke-width="1"/>
<line x1="89.35" y1="337.00" x2="89.35" y2="338.30" stroke="#2a2a2a" stroke-width="1"/>
<line x1="146.65" y1="337.00" x2="146.65" y2="338.30" stroke="#2a2a2a" stroke-width="1"/>
<line x1="203.95" y1="337.00" x2="203.95" y2="338.30" stroke="#2a2a2a" stroke-width="1"/>
<line x1="58.50" y1="312.02" x2="60.70" y2="312.02" stroke="#2a2a2a" stroke-width="1"/>
<line x1="58.50" y1="285.44" x2="60.70" y2="285.44" stroke="#2a2a2a" stroke-width="1"/>
<line x1="58.50" y1="258.86" x2="60.70" y2="258.86" stroke="#2a2a2a" stroke-width="1"/>
<line x1="58.50" y1="232.28" x2="60.70" y2="232.28" stroke="#2a2a2a" stroke-width="1"/>
<line x1="58.50" y1="205.70" x2="60.70" y2="205.70" stroke="#2a2a2a" stroke-width="1"/>
<line x1="59.40" y1="325.31" x2="60.70" y2="325.31" stroke="#2a2a2a" stroke-width="1"/>
<line x1="59.40" y1="298.73" x2="60.70" y2="298.73" stroke="#2a2a2a" stroke-width="1"/>
<line x1="59.40" y1="272.15" x2="60.70" y2="272.15" stroke="#2a2a2a" stroke-width="1"/>
<line x1="59.40" y1="245.57" x2="60.70" y2="245.57" stroke="#2a2a2a" stroke-width="1"/>
<line x1="59.40" y1="218.99" x2="60.70" y2="218.99" stroke="#2a2a2a" stroke-width="1"/>
<text x="60.70" y="347.00" font-size="7.4" text-anchor="middle" fill="#000" >0.3</text>
<text x="118.00" y="347.00" font-size="7.4" text-anchor="middle" fill="#000" >0.6</text>
<text x="175.30" y="347.00" font-size="7.4" text-anchor="middle" fill="#000" >0.9</text>
<text x="231.60" y="347.00" font-size="7.4" text-anchor="middle" fill="#000" >1.2</text>
<text x="56.60" y="314.52" font-size="7.4" text-anchor="end" fill="#000" >20</text>
<text x="56.60" y="287.94" font-size="7.4" text-anchor="end" fill="#000" >40</text>
<text x="56.60" y="261.36" font-size="7.4" text-anchor="end" fill="#000" >60</text>
<text x="56.60" y="234.78" font-size="7.4" text-anchor="end" fill="#000" >80</text>
<text x="56.60" y="208.20" font-size="7.4" text-anchor="end" fill="#000" >100</text>
<text x="150.00" y="357.70" font-size="10.2" text-anchor="middle" fill="#000" >Potential / V vs. RHE</text>
<text x="41.00" y="277.40" font-size="10.8" text-anchor="middle" fill="#000" transform="rotate(-90 41.00 277.40)" ><tspan font-weight="normal">&#951;</tspan><tspan font-size="0.62em" dy="0.42em">trans</tspan><tspan dy="-0.260em">&#8203;</tspan> / %</text>
<text x="27.60" y="219.20" font-size="24.5" text-anchor="start" fill="#000" >d</text>
<text x="242.90" y="212.30" font-size="24.5" text-anchor="start" fill="#000" >e</text>
<line x1="68.60" y1="246.80" x2="82.10" y2="246.80" stroke="#1a1a1a" stroke-width="1.1"/>
<text x="84.80" y="249.30" font-size="7.3" text-anchor="start" fill="#000" >BiVO<tspan font-size="0.62em" dy="0.42em">4</tspan><tspan dy="-0.260em">&#8203;</tspan></text>
<line x1="68.60" y1="258.40" x2="82.10" y2="258.40" stroke="#2a2aff" stroke-width="1.1"/>
<text x="84.80" y="260.90" font-size="7.3" text-anchor="start" fill="#000" >Mo:BiVO<tspan font-size="0.62em" dy="0.42em">4</tspan><tspan dy="-0.260em">&#8203;</tspan></text>
<line x1="68.60" y1="269.90" x2="82.10" y2="269.90" stroke="#ff22ee" stroke-width="1.1"/>
<text x="84.80" y="272.40" font-size="7.3" text-anchor="start" fill="#000" >Mo:BiVO<tspan font-size="0.62em" dy="0.42em">4</tspan><tspan dy="-0.260em">&#8203;</tspan>-Ni<tspan font-size="0.62em" dy="0.42em">2</tspan><tspan dy="-0.260em">&#8203;</tspan>P</text>
<line x1="68.60" y1="281.50" x2="82.10" y2="281.50" stroke="#ff1a1a" stroke-width="1.1"/>
<text x="84.80" y="284.00" font-size="7.3" text-anchor="start" fill="#000" >Mo:BiVO<tspan font-size="0.62em" dy="0.42em">4</tspan><tspan dy="-0.260em">&#8203;</tspan>-Ni<tspan font-size="0.62em" dy="0.42em">2</tspan><tspan dy="-0.260em">&#8203;</tspan>P-NIR</text>
<line x1="286.00" y1="335.30" x2="455.20" y2="244.02" stroke="#111" stroke-width="1.2"/>
<line x1="286.00" y1="335.30" x2="455.20" y2="220.11" stroke="#ff1a1a" stroke-width="1.3"/>
<circle cx="328.30" cy="313.57" r="1.3" fill="none" stroke="#333" stroke-width="0.7"/>
<circle cx="370.60" cy="290.75" r="1.3" fill="none" stroke="#333" stroke-width="0.7"/>
<circle cx="412.90" cy="268.47" r="1.3" fill="none" stroke="#333" stroke-width="0.7"/>
<circle cx="455.20" cy="247.82" r="1.3" fill="none" stroke="#333" stroke-width="0.7"/>
<circle cx="328.30" cy="307.59" r="1.3" fill="none" stroke="#ff1a1a" stroke-width="0.7"/>
<circle cx="370.60" cy="279.88" r="1.3" fill="none" stroke="#ff1a1a" stroke-width="0.7"/>
<circle cx="412.90" cy="251.62" r="1.3" fill="none" stroke="#ff1a1a" stroke-width="0.7"/>
<circle cx="455.20" cy="226.09" r="1.3" fill="none" stroke="#ff1a1a" stroke-width="0.7"/>
<rect x="286.00" y="204.90" width="176.30" height="130.40" fill="none" stroke="#444" stroke-width="1.0"/>
<line x1="286.00" y1="335.30" x2="286.00" y2="337.50" stroke="#2a2a2a" stroke-width="1"/>
<line x1="314.20" y1="335.30" x2="314.20" y2="337.50" stroke="#2a2a2a" stroke-width="1"/>
<line x1="342.40" y1="335.30" x2="342.40" y2="337.50" stroke="#2a2a2a" stroke-width="1"/>
<line x1="370.60" y1="335.30" x2="370.60" y2="337.50" stroke="#2a2a2a" stroke-width="1"/>
<line x1="398.80" y1="335.30" x2="398.80" y2="337.50" stroke="#2a2a2a" stroke-width="1"/>
<line x1="427.00" y1="335.30" x2="427.00" y2="337.50" stroke="#2a2a2a" stroke-width="1"/>
<line x1="455.20" y1="335.30" x2="455.20" y2="337.50" stroke="#2a2a2a" stroke-width="1"/>
<line x1="300.10" y1="335.30" x2="300.10" y2="336.60" stroke="#2a2a2a" stroke-width="1"/>
<line x1="328.30" y1="335.30" x2="328.30" y2="336.60" stroke="#2a2a2a" stroke-width="1"/>
<line x1="356.50" y1="335.30" x2="356.50" y2="336.60" stroke="#2a2a2a" stroke-width="1"/>
<line x1="384.70" y1="335.30" x2="384.70" y2="336.60" stroke="#2a2a2a" stroke-width="1"/>
<line x1="412.90" y1="335.30" x2="412.90" y2="336.60" stroke="#2a2a2a" stroke-width="1"/>
<line x1="441.10" y1="335.30" x2="441.10" y2="336.60" stroke="#2a2a2a" stroke-width="1"/>
<line x1="283.80" y1="335.30" x2="286.00" y2="335.30" stroke="#2a2a2a" stroke-width="1"/>
<line x1="283.80" y1="302.70" x2="286.00" y2="302.70" stroke="#2a2a2a" stroke-width="1"/>
<line x1="283.80" y1="270.10" x2="286.00" y2="270.10" stroke="#2a2a2a" stroke-width="1"/>
<line x1="283.80" y1="237.50" x2="286.00" y2="237.50" stroke="#2a2a2a" stroke-width="1"/>
<line x1="283.80" y1="204.90" x2="286.00" y2="204.90" stroke="#2a2a2a" stroke-width="1"/>
<line x1="284.70" y1="319.00" x2="286.00" y2="319.00" stroke="#2a2a2a" stroke-width="1"/>
<line x1="284.70" y1="286.40" x2="286.00" y2="286.40" stroke="#2a2a2a" stroke-width="1"/>
<line x1="284.70" y1="253.80" x2="286.00" y2="253.80" stroke="#2a2a2a" stroke-width="1"/>
<line x1="284.70" y1="221.20" x2="286.00" y2="221.20" stroke="#2a2a2a" stroke-width="1"/>
<text x="286.00" y="346.30" font-size="7.8" text-anchor="middle" fill="#000" >0</text>
<text x="314.20" y="346.30" font-size="7.8" text-anchor="middle" fill="#000" >20</text>
<text x="342.40" y="346.30" font-size="7.8" text-anchor="middle" fill="#000" >40</text>
<text x="370.60" y="346.30" font-size="7.8" text-anchor="middle" fill="#000" >60</text>
<text x="398.80" y="346.30" font-size="7.8" text-anchor="middle" fill="#000" >80</text>
<text x="427.00" y="346.30" font-size="7.8" text-anchor="middle" fill="#000" >100</text>
<text x="455.20" y="346.30" font-size="7.8" text-anchor="middle" fill="#000" >120</text>
<text x="282.00" y="337.90" font-size="7.8" text-anchor="end" fill="#000" >0</text>
<text x="282.00" y="305.30" font-size="7.8" text-anchor="end" fill="#000" >30</text>
<text x="282.00" y="272.70" font-size="7.8" text-anchor="end" fill="#000" >60</text>
<text x="282.00" y="240.10" font-size="7.8" text-anchor="end" fill="#000" >90</text>
<text x="282.00" y="207.50" font-size="7.8" text-anchor="end" fill="#000" >120</text>
<text x="373.20" y="357.20" font-size="10.7" text-anchor="middle" fill="#000" >Time / min</text>
<text x="265.30" y="271.60" font-size="11.2" text-anchor="middle" fill="#000" transform="rotate(-90 265.30 271.60)" >O<tspan font-size="0.62em" dy="0.42em">2</tspan><tspan dy="-0.260em">&#8203;</tspan> evolved / &#956;mol cm<tspan font-size="0.5em" dy="-1.05em">-2</tspan><tspan dy="0.525em">&#8203;</tspan></text>
<circle cx="300.3" cy="223.2" r="1.4" fill="none" stroke="#111" stroke-width="0.9"/>
<text x="307.70" y="226.00" font-size="7.9" text-anchor="start" fill="#000" >O<tspan font-size="0.62em" dy="0.42em">2</tspan><tspan dy="-0.260em">&#8203;</tspan> (Mo:BiVO<tspan font-size="0.62em" dy="0.42em">4</tspan><tspan dy="-0.260em">&#8203;</tspan>-Ni<tspan font-size="0.62em" dy="0.42em">2</tspan><tspan dy="-0.260em">&#8203;</tspan>P)</text>
<circle cx="298.7" cy="243.7" r="1.4" fill="none" stroke="#ff1a1a" stroke-width="0.8"/>
<text x="307.70" y="246.60" font-size="7.9" text-anchor="start" fill="#000" >O<tspan font-size="0.62em" dy="0.42em">2</tspan><tspan dy="-0.260em">&#8203;</tspan> (Mo:BiVO<tspan font-size="0.62em" dy="0.42em">4</tspan><tspan dy="-0.260em">&#8203;</tspan>-Ni<tspan font-size="0.62em" dy="0.42em">2</tspan><tspan dy="-0.260em">&#8203;</tspan>P-NIR)</text>
<path d="M512.60 318.25 C513.60 318.20 517.03 318.34 518.57 317.98 C520.11 317.62 520.70 317.98 521.83 316.08 C522.96 314.18 524.09 311.78 525.36 306.58 C526.63 301.37 528.07 292.10 529.43 284.86 C530.79 277.62 532.14 269.25 533.50 263.15 C534.86 257.04 536.22 251.84 537.57 248.22 C538.93 244.60 540.29 243.24 541.64 241.43 C543.00 239.62 544.59 237.90 545.72 237.36 C546.85 236.82 547.53 238.85 548.43 238.17 C549.34 237.50 550.15 234.46 551.15 233.29 C552.14 232.11 553.50 232.47 554.40 231.12 C555.31 229.76 555.90 226.41 556.57 225.14 C557.25 223.88 557.84 223.52 558.47 223.52 C559.11 223.52 559.70 223.29 560.37 225.14 C561.05 227.00 561.73 232.16 562.55 234.64 C563.36 237.13 564.36 239.30 565.26 240.07 C566.17 240.84 566.93 238.81 567.98 239.26 C569.02 239.71 570.24 241.88 571.50 242.79 C572.77 243.69 574.22 243.92 575.58 244.69 C576.93 245.46 578.52 247.49 579.65 247.40 C580.78 247.31 581.46 246.05 582.36 244.15 C583.27 242.25 584.17 238.63 585.08 236.00 C585.98 233.38 586.66 230.35 587.79 228.40 C588.92 226.46 590.50 225.19 591.86 224.33 C593.22 223.47 594.58 223.43 595.93 223.24 C597.29 223.06 598.87 222.93 600.01 223.24 C601.14 223.56 601.82 224.74 602.72 225.14 C603.62 225.55 604.53 225.33 605.43 225.69 C606.34 226.05 607.24 226.28 608.15 227.32 C609.05 228.36 609.96 230.48 610.86 231.93 C611.77 233.38 612.67 234.64 613.58 236.00 C614.48 237.36 615.39 238.72 616.29 240.07 C617.20 241.43 618.01 242.34 619.01 244.15 C620.00 245.96 620.91 247.99 622.26 250.93 C623.62 253.87 625.52 258.62 627.15 261.79 C628.78 264.96 630.14 266.99 632.04 269.93 C633.94 272.87 636.42 276.49 638.55 279.43 C640.68 282.37 642.85 285.09 644.79 287.58 C646.74 290.06 648.55 292.19 650.22 294.36 C651.90 296.53 653.25 298.66 654.84 300.61 C656.42 302.55 658.09 304.50 659.72 306.03 C661.35 307.57 663.12 308.84 664.61 309.83 C666.10 310.83 667.23 311.51 668.68 312.01 C670.13 312.50 671.98 312.73 673.30 312.82 C674.61 312.91 675.42 312.32 676.55 312.55 C677.68 312.78 678.81 313.73 680.08 314.18 C681.35 314.63 682.61 315.04 684.15 315.26 C685.69 315.49 688.45 315.49 689.31 315.54" fill="none" stroke="#111" stroke-width="1.2" stroke-linecap="round"/>
<path d="M512.60 318.25 C513.82 318.20 518.12 318.57 519.93 317.98 C521.74 317.39 522.33 317.07 523.46 314.72 C524.59 312.37 525.49 308.84 526.72 303.86 C527.94 298.89 529.43 290.97 530.79 284.86 C532.14 278.75 533.50 271.74 534.86 267.22 C536.22 262.69 537.57 260.07 538.93 257.72 C540.29 255.37 541.64 254.23 543.00 253.10 C544.36 251.97 545.94 251.43 547.07 250.93 C548.20 250.43 548.88 250.57 549.79 250.12 C550.69 249.66 551.60 249.21 552.50 248.22 C553.41 247.22 554.45 245.73 555.22 244.15 C555.99 242.56 556.53 239.76 557.12 238.72 C557.71 237.68 558.16 237.54 558.75 237.90 C559.33 238.26 560.01 239.17 560.65 240.89 C561.28 242.61 561.78 246.09 562.55 248.22 C563.32 250.34 564.22 252.52 565.26 253.65 C566.30 254.78 567.61 254.55 568.79 255.00 C569.97 255.46 571.41 256.27 572.32 256.36 C573.22 256.45 573.22 255.41 574.22 255.55 C575.21 255.68 577.07 257.27 578.29 257.17 C579.51 257.08 580.42 256.27 581.55 255.00 C582.68 253.74 583.90 251.61 585.08 249.57 C586.25 247.54 587.47 244.51 588.60 242.79 C589.74 241.07 590.87 239.67 591.86 239.26 C592.86 238.85 593.67 240.30 594.58 240.35 C595.48 240.39 596.39 239.89 597.29 239.53 C598.20 239.17 599.10 237.95 600.01 238.17 C600.91 238.40 601.59 240.12 602.72 240.89 C603.85 241.66 605.43 241.79 606.79 242.79 C608.15 243.78 609.73 245.50 610.86 246.86 C611.99 248.22 612.67 249.57 613.58 250.93 C614.48 252.29 615.16 253.42 616.29 255.00 C617.42 256.59 618.78 258.40 620.36 260.43 C621.95 262.47 624.03 264.73 625.79 267.22 C627.56 269.71 629.32 273.10 630.95 275.36 C632.58 277.62 633.89 278.85 635.56 280.79 C637.24 282.74 639.23 285.00 640.99 287.03 C642.76 289.07 644.43 290.88 646.15 293.01 C647.87 295.13 649.59 297.76 651.31 299.79 C653.03 301.83 654.75 303.64 656.47 305.22 C658.18 306.80 659.95 308.16 661.62 309.29 C663.30 310.42 664.93 311.28 666.51 312.01 C668.09 312.73 669.54 313.32 671.12 313.64 C672.71 313.95 674.29 313.64 676.01 313.91 C677.73 314.18 679.22 314.90 681.44 315.26 C683.66 315.63 688.00 315.94 689.31 316.08" fill="none" stroke="#2020ff" stroke-width="1.4" stroke-linecap="round"/>
<path d="M512.60 318.25 C513.96 318.20 518.84 318.48 520.74 317.98 C522.64 317.48 522.78 317.39 524.00 315.26 C525.22 313.14 526.72 309.38 528.07 305.22 C529.43 301.06 530.79 294.82 532.14 290.29 C533.50 285.77 534.86 281.15 536.22 278.08 C537.57 275.00 538.93 273.19 540.29 271.83 C541.64 270.48 543.00 270.39 544.36 269.93 C545.72 269.48 547.07 269.57 548.43 269.12 C549.79 268.67 551.37 267.99 552.50 267.22 C553.63 266.45 554.40 265.54 555.22 264.50 C556.03 263.46 556.80 261.65 557.39 260.98 C557.98 260.30 558.20 260.07 558.75 260.43 C559.29 260.79 560.01 261.88 560.65 263.15 C561.28 264.41 561.64 266.77 562.55 268.03 C563.45 269.30 564.81 270.11 566.07 270.75 C567.34 271.38 568.79 271.20 570.15 271.83 C571.50 272.47 573.09 273.87 574.22 274.55 C575.35 275.23 575.89 275.99 576.93 275.90 C577.97 275.81 579.33 275.00 580.46 274.00 C581.59 273.01 582.63 271.52 583.72 269.93 C584.80 268.35 585.98 265.95 586.98 264.50 C587.97 263.06 588.79 261.83 589.69 261.25 C590.60 260.66 591.36 260.84 592.40 260.98 C593.45 261.11 594.67 262.06 595.93 262.06 C597.20 262.06 598.65 260.88 600.01 260.98 C601.36 261.07 602.72 262.02 604.08 262.60 C605.43 263.19 606.79 263.73 608.15 264.50 C609.51 265.27 610.86 266.18 612.22 267.22 C613.58 268.26 614.93 269.39 616.29 270.75 C617.65 272.10 618.92 273.69 620.36 275.36 C621.81 277.04 623.17 278.75 624.98 280.79 C626.79 282.83 629.23 285.54 631.22 287.58 C633.21 289.61 635.07 291.20 636.92 293.01 C638.78 294.82 640.63 296.72 642.35 298.43 C644.07 300.15 645.70 301.83 647.24 303.32 C648.77 304.81 649.95 306.17 651.58 307.39 C653.21 308.61 655.20 309.70 657.01 310.65 C658.82 311.60 660.63 312.41 662.44 313.09 C664.25 313.77 665.60 314.36 667.87 314.72 C670.13 315.08 672.44 314.95 676.01 315.26 C679.58 315.58 687.09 316.39 689.31 316.62" fill="none" stroke="#ff66ee" stroke-width="1.3" stroke-linecap="round"/>
<path d="M512.60 318.25 C514.05 318.20 519.30 318.34 521.29 317.98 C523.28 317.62 523.28 317.98 524.54 316.08 C525.81 314.18 527.53 310.06 528.89 306.58 C530.24 303.09 531.33 298.43 532.69 295.18 C534.04 291.92 535.54 288.98 537.03 287.03 C538.52 285.09 540.20 284.32 541.64 283.50 C543.09 282.69 544.36 282.55 545.72 282.15 C547.07 281.74 548.43 281.51 549.79 281.06 C551.15 280.61 552.73 280.16 553.86 279.43 C554.99 278.71 555.81 277.53 556.57 276.72 C557.34 275.90 557.84 274.55 558.47 274.55 C559.11 274.55 559.70 275.68 560.37 276.72 C561.05 277.76 561.60 279.66 562.55 280.79 C563.50 281.92 564.81 282.92 566.07 283.50 C567.34 284.09 568.65 283.87 570.15 284.32 C571.64 284.77 573.68 286.04 575.03 286.22 C576.39 286.40 577.07 286.08 578.29 285.40 C579.51 284.73 581.00 283.37 582.36 282.15 C583.72 280.93 585.08 279.21 586.43 278.08 C587.79 276.94 589.15 275.86 590.50 275.36 C591.86 274.86 593.22 275.04 594.58 275.09 C595.93 275.14 597.29 275.41 598.65 275.63 C600.01 275.86 601.36 276.18 602.72 276.45 C604.08 276.72 605.43 276.76 606.79 277.26 C608.15 277.76 609.51 278.62 610.86 279.43 C612.22 280.25 613.58 281.15 614.93 282.15 C616.29 283.14 617.88 284.14 619.01 285.40 C620.14 286.67 620.68 288.48 621.72 289.75 C622.76 291.01 623.85 291.78 625.25 293.01 C626.65 294.23 628.37 295.72 630.14 297.08 C631.90 298.43 633.89 299.79 635.84 301.15 C637.78 302.51 639.64 304.00 641.81 305.22 C643.98 306.44 646.78 307.44 648.87 308.48 C650.95 309.52 652.48 310.65 654.29 311.46 C656.10 312.28 657.91 312.82 659.72 313.36 C661.53 313.91 662.89 314.31 665.15 314.72 C667.41 315.13 669.27 315.44 673.30 315.81 C677.32 316.17 686.64 316.71 689.31 316.89" fill="none" stroke="#ff1a1a" stroke-width="1.4" stroke-linecap="round"/>
<rect x="512.70" y="202.60" width="176.70" height="131.40" fill="none" stroke="#333" stroke-width="1.0"/>
<line x1="532.38" y1="334.00" x2="532.38" y2="336.20" stroke="#2a2a2a" stroke-width="1"/>
<line x1="571.74" y1="334.00" x2="571.74" y2="336.20" stroke="#2a2a2a" stroke-width="1"/>
<line x1="611.10" y1="334.00" x2="611.10" y2="336.20" stroke="#2a2a2a" stroke-width="1"/>
<line x1="650.46" y1="334.00" x2="650.46" y2="336.20" stroke="#2a2a2a" stroke-width="1"/>
<line x1="689.82" y1="334.00" x2="689.82" y2="336.20" stroke="#2a2a2a" stroke-width="1"/>
<line x1="512.70" y1="334.00" x2="512.70" y2="335.30" stroke="#2a2a2a" stroke-width="1"/>
<line x1="552.06" y1="334.00" x2="552.06" y2="335.30" stroke="#2a2a2a" stroke-width="1"/>
<line x1="591.42" y1="334.00" x2="591.42" y2="335.30" stroke="#2a2a2a" stroke-width="1"/>
<line x1="630.78" y1="334.00" x2="630.78" y2="335.30" stroke="#2a2a2a" stroke-width="1"/>
<line x1="670.14" y1="334.00" x2="670.14" y2="335.30" stroke="#2a2a2a" stroke-width="1"/>
<text x="532.38" y="346.00" font-size="8.6" text-anchor="middle" fill="#000" >400</text>
<text x="571.74" y="346.00" font-size="8.6" text-anchor="middle" fill="#000" >500</text>
<text x="611.10" y="346.00" font-size="8.6" text-anchor="middle" fill="#000" >600</text>
<text x="650.46" y="346.00" font-size="8.6" text-anchor="middle" fill="#000" >700</text>
<text x="688.82" y="346.00" font-size="8.6" text-anchor="middle" fill="#000" >800</text>
<text x="598.00" y="357.00" font-size="11.6" text-anchor="middle" fill="#000" >Wavelength / nm</text>
<text x="504.00" y="268.00" font-size="11.6" text-anchor="middle" fill="#000" transform="rotate(-90 504.00 268.00)" >Intensity / a.u.</text>
<line x1="568.00" y1="289.70" x2="583.70" y2="289.70" stroke="#111" stroke-width="1.2"/>
<text x="586.60" y="292.60" font-size="8.4" text-anchor="start" fill="#000" >BiVO<tspan font-size="0.62em" dy="0.42em">4</tspan><tspan dy="-0.260em">&#8203;</tspan></text>
<line x1="568.00" y1="302.50" x2="583.70" y2="302.50" stroke="#2020ff" stroke-width="1.5"/>
<text x="586.60" y="305.40" font-size="8.4" text-anchor="start" fill="#000" >Mo:BiVO<tspan font-size="0.62em" dy="0.42em">4</tspan><tspan dy="-0.260em">&#8203;</tspan></text>
<line x1="568.00" y1="314.20" x2="583.70" y2="314.20" stroke="#ff66ee" stroke-width="1.3"/>
<text x="586.60" y="317.10" font-size="8.4" text-anchor="start" fill="#000" >Mo:BiVO<tspan font-size="0.62em" dy="0.42em">4</tspan><tspan dy="-0.260em">&#8203;</tspan>-Ni<tspan font-size="0.62em" dy="0.42em">2</tspan><tspan dy="-0.260em">&#8203;</tspan>P</text>
<line x1="568.00" y1="326.10" x2="583.70" y2="326.10" stroke="#ff1a1a" stroke-width="1.4"/>
<text x="586.60" y="329.00" font-size="8.4" text-anchor="start" fill="#000" >Mo:BiVO<tspan font-size="0.62em" dy="0.42em">4</tspan><tspan dy="-0.260em">&#8203;</tspan>-Ni<tspan font-size="0.62em" dy="0.42em">2</tspan><tspan dy="-0.260em">&#8203;</tspan>P-NIR</text>
<rect x="63.60" y="421.85" width="405.60" height="11.34" fill="#dbe7f4" stroke="none" stroke-width="1"/>
<path d="M63.60 424.22 C64.28 424.29 66.30 424.47 67.65 424.62 C69.00 424.77 69.68 424.93 71.71 425.15 C73.73 425.37 77.11 425.72 79.81 425.94 C82.51 426.16 83.87 426.31 87.92 426.47 C91.97 426.62 97.38 426.73 104.13 426.86 C110.88 426.99 121.69 427.17 128.45 427.26 C135.20 427.35 135.20 427.32 144.66 427.39 C154.12 427.46 171.68 427.54 185.19 427.65 C198.70 427.76 212.21 427.87 225.72 428.05 C239.23 428.23 252.74 428.53 266.25 428.71 C279.76 428.88 293.27 428.95 306.78 429.10 C320.29 429.26 333.80 429.46 347.31 429.63 C360.82 429.81 374.33 429.98 387.84 430.16 C401.35 430.34 414.86 430.56 428.37 430.69 C441.88 430.82 462.15 430.91 468.90 430.95" fill="none" stroke="#e23a55" stroke-width="1.1" stroke-linecap="round"/>
<rect x="63.60" y="377.30" width="405.60" height="132.00" fill="none" stroke="#333" stroke-width="1.0"/>
<line x1="63.60" y1="509.30" x2="63.60" y2="511.50" stroke="#2a2a2a" stroke-width="1"/>
<line x1="144.66" y1="509.30" x2="144.66" y2="511.50" stroke="#2a2a2a" stroke-width="1"/>
<line x1="225.72" y1="509.30" x2="225.72" y2="511.50" stroke="#2a2a2a" stroke-width="1"/>
<line x1="306.78" y1="509.30" x2="306.78" y2="511.50" stroke="#2a2a2a" stroke-width="1"/>
<line x1="387.84" y1="509.30" x2="387.84" y2="511.50" stroke="#2a2a2a" stroke-width="1"/>
<line x1="468.90" y1="509.30" x2="468.90" y2="511.50" stroke="#2a2a2a" stroke-width="1"/>
<line x1="104.13" y1="509.30" x2="104.13" y2="510.60" stroke="#2a2a2a" stroke-width="1"/>
<line x1="185.19" y1="509.30" x2="185.19" y2="510.60" stroke="#2a2a2a" stroke-width="1"/>
<line x1="266.25" y1="509.30" x2="266.25" y2="510.60" stroke="#2a2a2a" stroke-width="1"/>
<line x1="347.31" y1="509.30" x2="347.31" y2="510.60" stroke="#2a2a2a" stroke-width="1"/>
<line x1="428.37" y1="509.30" x2="428.37" y2="510.60" stroke="#2a2a2a" stroke-width="1"/>
<line x1="61.40" y1="509.30" x2="63.60" y2="509.30" stroke="#2a2a2a" stroke-width="1"/>
<line x1="61.40" y1="482.92" x2="63.60" y2="482.92" stroke="#2a2a2a" stroke-width="1"/>
<line x1="61.40" y1="456.54" x2="63.60" y2="456.54" stroke="#2a2a2a" stroke-width="1"/>
<line x1="61.40" y1="430.16" x2="63.60" y2="430.16" stroke="#2a2a2a" stroke-width="1"/>
<line x1="61.40" y1="403.78" x2="63.60" y2="403.78" stroke="#2a2a2a" stroke-width="1"/>
<line x1="61.40" y1="377.40" x2="63.60" y2="377.40" stroke="#2a2a2a" stroke-width="1"/>
<line x1="62.30" y1="496.11" x2="63.60" y2="496.11" stroke="#2a2a2a" stroke-width="1"/>
<line x1="62.30" y1="469.73" x2="63.60" y2="469.73" stroke="#2a2a2a" stroke-width="1"/>
<line x1="62.30" y1="443.35" x2="63.60" y2="443.35" stroke="#2a2a2a" stroke-width="1"/>
<line x1="62.30" y1="416.97" x2="63.60" y2="416.97" stroke="#2a2a2a" stroke-width="1"/>
<line x1="62.30" y1="390.59" x2="63.60" y2="390.59" stroke="#2a2a2a" stroke-width="1"/>
<text x="63.60" y="520.30" font-size="7.8" text-anchor="middle" fill="#000" >0</text>
<text x="144.66" y="520.30" font-size="7.8" text-anchor="middle" fill="#000" >10</text>
<text x="225.72" y="520.30" font-size="7.8" text-anchor="middle" fill="#000" >20</text>
<text x="306.78" y="520.30" font-size="7.8" text-anchor="middle" fill="#000" >30</text>
<text x="387.84" y="520.30" font-size="7.8" text-anchor="middle" fill="#000" >40</text>
<text x="468.90" y="520.30" font-size="7.8" text-anchor="middle" fill="#000" >50</text>
<text x="60.20" y="511.90" font-size="7.8" text-anchor="end" fill="#000" >0</text>
<text x="60.20" y="485.52" font-size="7.8" text-anchor="end" fill="#000" >2</text>
<text x="60.20" y="459.14" font-size="7.8" text-anchor="end" fill="#000" >4</text>
<text x="60.20" y="432.76" font-size="7.8" text-anchor="end" fill="#000" >6</text>
<text x="60.20" y="406.38" font-size="7.8" text-anchor="end" fill="#000" >8</text>
<text x="60.20" y="380.00" font-size="7.8" text-anchor="end" fill="#000" >10</text>
<text x="270.80" y="528.70" font-size="10.95" text-anchor="middle" fill="#000" >Time / h</text>
<text x="49.70" y="441.80" font-size="11.6" text-anchor="middle" fill="#000" transform="rotate(-90 49.70 441.80)" >Photocurrent Density / mA cm<tspan font-size="0.5em" dy="-1.05em">-2</tspan><tspan dy="0.525em">&#8203;</tspan></text>
<line x1="362.50" y1="386.90" x2="378.60" y2="386.90" stroke="#f05568" stroke-width="1.3"/>
<text x="381.00" y="389.60" font-size="8.35" text-anchor="start" fill="#000" >Mo:BiVO<tspan font-size="0.62em" dy="0.42em">4</tspan><tspan dy="-0.260em">&#8203;</tspan>-Ni<tspan font-size="0.62em" dy="0.42em">2</tspan><tspan dy="-0.260em">&#8203;</tspan>P +NIR</text>
<defs><linearGradient id="rg" x1="0.1" y1="0" x2="0.9" y2="1"><stop offset="0" stop-color="#c0c2b2"/><stop offset="0.5" stop-color="#cccdc6"/><stop offset="0.8" stop-color="#dcdcd0"/><stop offset="1" stop-color="#ecebb8"/></linearGradient><linearGradient id="rg2" x1="0" y1="1" x2="1" y2="0"><stop offset="0.1" stop-color="#a8acec" stop-opacity="0.52"/><stop offset="0.5" stop-color="#b0b4e4" stop-opacity="0.05"/><stop offset="0.92" stop-color="#a8aeec" stop-opacity="0.52"/></linearGradient></defs>
<path d="M598.00 380.70 L675.70 437.15 L646.02 528.50 L549.98 528.50 L520.30 437.15 Z" fill="url(#rg)" stroke="none" stroke-width="0" stroke-linejoin="round" stroke-linecap="round" />
<path d="M598.00 380.70 L675.70 437.15 L646.02 528.50 L549.98 528.50 L520.30 437.15 Z" fill="url(#rg2)" stroke="none" stroke-width="0" stroke-linejoin="round" stroke-linecap="round" />
<clipPath id="pc"><path d="M598.00 380.70 L675.70 437.15 L646.02 528.50 L549.98 528.50 L520.30 437.15 Z"/></clipPath>
<path d="M598.00 380.70 L675.70 437.15 L646.02 528.50 L549.98 528.50 L520.30 437.15 Z" fill="none" stroke="rgba(238,238,228,0.55)" stroke-width="5" stroke-linejoin="round" stroke-linecap="round" clip-path="url(#pc)"/>
<path d="M597.70 394.00 L659.80 441.70 L636.50 515.30 L565.60 506.50 L527.90 439.40 Z" fill="rgba(255,160,195,0.30)" stroke="none" stroke-width="0" stroke-linejoin="round" stroke-linecap="round" />
<path d="M597.70 396.00 L646.80 446.40 L629.60 504.50 L571.90 497.80 L533.60 441.10 Z" fill="rgba(240,150,240,0.20)" stroke="none" stroke-width="0" stroke-linejoin="round" stroke-linecap="round" />
<path d="M598.00 453.40 L626.00 452.80 L618.10 489.50 L581.20 484.80 L551.40 447.00 Z" fill="rgba(100,70,240,0.5)" stroke="none" stroke-width="0" stroke-linejoin="round" stroke-linecap="round" />
<path d="M598.00 454.00 L607.70 458.90 L604.40 470.70 L592.90 469.30 L581.50 456.70 Z" fill="rgba(60,20,120,0.2)" stroke="none" stroke-width="0" stroke-linejoin="round" stroke-linecap="round" />
<path d="M598.00 435.17 L623.90 453.98 L614.01 484.43 L581.99 484.43 L572.10 453.98 Z" fill="none" stroke="#5a463c" stroke-width="0.6" stroke-linejoin="round" stroke-linecap="round" />
<path d="M598.00 407.93 L649.80 445.57 L630.01 506.46 L565.99 506.46 L546.20 445.57 Z" fill="none" stroke="#5a463c" stroke-width="0.6" stroke-linejoin="round" stroke-linecap="round" />
<path d="M598.00 380.70 L675.70 437.15 L646.02 528.50 L549.98 528.50 L520.30 437.15 Z" fill="none" stroke="#8a8a84" stroke-width="0.6" stroke-linejoin="round" stroke-linecap="round" />
<line x1="598.00" y1="462.40" x2="598.00" y2="380.70" stroke="#5a463c" stroke-width="0.6"/>
<line x1="598.00" y1="462.40" x2="675.70" y2="437.15" stroke="#5a463c" stroke-width="0.6"/>
<line x1="598.00" y1="462.40" x2="646.02" y2="528.50" stroke="#5a463c" stroke-width="0.6"/>
<line x1="598.00" y1="462.40" x2="549.98" y2="528.50" stroke="#5a463c" stroke-width="0.6"/>
<line x1="598.00" y1="462.40" x2="520.30" y2="437.15" stroke="#5a463c" stroke-width="0.6"/>
<path d="M597.70 394.00 L659.80 441.70 L636.50 515.30 L565.60 506.50 L527.90 439.40 Z" fill="none" stroke="#ff1a1a" stroke-width="1.4" stroke-linejoin="round" stroke-linecap="round" />
<path d="M597.70 396.00 L646.80 446.40 L629.60 504.50 L571.90 497.80 L533.60 441.10 Z" fill="none" stroke="#ff78e8" stroke-width="1.2" stroke-linejoin="round" stroke-linecap="round" />
<path d="M598.00 453.40 L626.00 452.80 L618.10 489.50 L581.20 484.80 L551.40 447.00 Z" fill="none" stroke="#2b2bff" stroke-width="1.4" stroke-linejoin="round" stroke-linecap="round" />
<path d="M598.00 454.00 L607.70 458.90 L604.40 470.70 L592.90 469.30 L581.50 456.70 Z" fill="none" stroke="#111" stroke-width="1.0" stroke-linejoin="round" stroke-linecap="round" />
<circle cx="597.70" cy="394.00" r="1.9" fill="#ff1a1a"/>
<circle cx="659.80" cy="441.70" r="1.9" fill="#ff1a1a"/>
<circle cx="636.50" cy="515.30" r="1.9" fill="#ff1a1a"/>
<circle cx="565.60" cy="506.50" r="1.9" fill="#ff1a1a"/>
<circle cx="527.90" cy="439.40" r="1.9" fill="#ff1a1a"/>
<circle cx="598.00" cy="453.40" r="1.8" fill="#2b2bff"/>
<circle cx="626.00" cy="452.80" r="1.8" fill="#2b2bff"/>
<circle cx="618.10" cy="489.50" r="1.8" fill="#2b2bff"/>
<circle cx="581.20" cy="484.80" r="1.8" fill="#2b2bff"/>
<circle cx="551.40" cy="447.00" r="1.8" fill="#2b2bff"/>
<circle cx="598.00" cy="454.00" r="1.6" fill="#111"/>
<circle cx="607.70" cy="458.90" r="1.6" fill="#111"/>
<circle cx="604.40" cy="470.70" r="1.6" fill="#111"/>
<circle cx="592.90" cy="469.30" r="1.6" fill="#111"/>
<circle cx="581.50" cy="456.70" r="1.6" fill="#111"/>
<circle cx="597.70" cy="396.00" r="1.4" fill="#ff70e6"/>
<circle cx="646.80" cy="446.40" r="1.4" fill="#ff70e6"/>
<circle cx="629.60" cy="504.50" r="1.4" fill="#ff70e6"/>
<circle cx="571.90" cy="497.80" r="1.4" fill="#ff70e6"/>
<circle cx="533.60" cy="441.10" r="1.4" fill="#ff70e6"/>
<text x="598.30" y="378.80" font-size="10.5" text-anchor="middle" fill="#000" >T</text>
<text x="507.30" y="431.60" font-size="10.2" text-anchor="start" fill="#000" >FE</text>
<text x="676.30" y="440.80" font-size="10.2" text-anchor="start" fill="#000" >J</text>
<text x="537.20" y="536.00" font-size="11" text-anchor="start" fill="#000" >O<tspan font-size="0.62em" dy="0.42em">2</tspan><tspan dy="-0.260em">&#8203;</tspan></text>
<text x="651.80" y="536.50" font-size="11" text-anchor="start" fill="#000" >H<tspan font-size="0.62em" dy="0.42em">2</tspan><tspan dy="-0.260em">&#8203;</tspan></text>
<text x="592.30" y="383.00" font-size="5.6" text-anchor="middle" fill="#000" >40</text>
<text x="592.30" y="410.00" font-size="5.6" text-anchor="middle" fill="#000" >35</text>
<text x="592.30" y="437.00" font-size="5.6" text-anchor="middle" fill="#000" >30</text>
<text x="675.00" y="434.00" font-size="5.6" text-anchor="middle" fill="#000" >8</text>
<text x="655.50" y="438.50" font-size="5.6" text-anchor="middle" fill="#000" >6</text>
<text x="637.00" y="446.80" font-size="5.6" text-anchor="middle" fill="#000" >4</text>
<text x="622.80" y="452.30" font-size="5.6" text-anchor="middle" fill="#000" >2</text>
<text x="653.50" y="526.00" font-size="5.6" text-anchor="middle" fill="#000" >250</text>
<text x="643.50" y="513.00" font-size="5.6" text-anchor="middle" fill="#000" >200</text>
<text x="633.50" y="500.00" font-size="5.6" text-anchor="middle" fill="#000" >150</text>
<text x="623.50" y="486.50" font-size="5.6" text-anchor="middle" fill="#000" >100</text>
<text x="612.00" y="473.50" font-size="5.6" text-anchor="middle" fill="#000" >50</text>
<text x="556.00" y="532.50" font-size="5.6" text-anchor="middle" fill="#000" >150</text>
<text x="572.00" y="512.50" font-size="5.6" text-anchor="middle" fill="#000" >100</text>
<text x="586.00" y="490.00" font-size="5.6" text-anchor="middle" fill="#000" >50</text>
<text x="519.00" y="443.20" font-size="5.6" text-anchor="middle" fill="#000" >100</text>
<text x="536.00" y="448.00" font-size="5.6" text-anchor="middle" fill="#000" >90</text>
<text x="552.50" y="452.50" font-size="5.6" text-anchor="middle" fill="#000" >80</text>
<text x="565.00" y="458.80" font-size="5.6" text-anchor="middle" fill="#000" >70</text>
<text x="580.50" y="464.00" font-size="5.6" text-anchor="middle" fill="#000" >60</text>
<text x="598.50" y="459.50" font-size="5.6" text-anchor="middle" fill="#000" >(0)</text>
<text x="594.00" y="464.50" font-size="5.6" text-anchor="middle" fill="#000" >25</text>
<text x="598.50" y="469.00" font-size="5.6" text-anchor="middle" fill="#000" >4.0</text>
<line x1="520.00" y1="402.40" x2="539.00" y2="389.60" stroke="#111" stroke-width="1.3"/>
<circle cx="529.50" cy="396.00" r="1.9" fill="#111"/>
<text x="541.50" y="391.80" font-size="8.8" text-anchor="start" fill="#000" transform="rotate(-31.5 541.50 391.80)" >BiVO<tspan font-size="0.55em" dy="0.15em">4</tspan><tspan dy="-0.083em">&#8203;</tspan></text>
<line x1="528.30" y1="414.50" x2="547.90" y2="401.50" stroke="#2b2bff" stroke-width="1.3"/>
<circle cx="538.10" cy="408.00" r="1.9" fill="#2b2bff"/>
<text x="550.30" y="404.20" font-size="8.8" text-anchor="start" fill="#000" transform="rotate(-32 550.30 404.20)" >Mo:BiVO<tspan font-size="0.55em" dy="0.15em">4</tspan><tspan dy="-0.083em">&#8203;</tspan></text>
<line x1="616.60" y1="362.50" x2="635.70" y2="376.30" stroke="#ff70e6" stroke-width="1.3"/>
<path d="M623.95 367.80 L628.35 368.80 L625.55 371.80Z" fill="#ff70e6"/>
<text x="636.00" y="381.50" font-size="8.3" text-anchor="start" fill="#000" transform="rotate(34 636.00 381.50)" >Mo:BiVO<tspan font-size="0.62em" dy="0.42em">4</tspan><tspan dy="-0.260em">&#8203;</tspan>-Ni<tspan font-size="0.62em" dy="0.42em">2</tspan><tspan dy="-0.260em">&#8203;</tspan>P</text>
<line x1="608.00" y1="375.30" x2="627.40" y2="388.20" stroke="#ff1a1a" stroke-width="1.3"/>
<circle cx="617.70" cy="381.75" r="1.9" fill="#ff1a1a"/>
<text x="626.50" y="394.00" font-size="8.3" text-anchor="start" fill="#000" transform="rotate(34 626.50 394.00)" >Mo:BiVO<tspan font-size="0.62em" dy="0.42em">4</tspan><tspan dy="-0.260em">&#8203;</tspan>-Ni<tspan font-size="0.62em" dy="0.42em">2</tspan><tspan dy="-0.260em">&#8203;</tspan>P-NIR</text>
</g></svg>
</body></html>
